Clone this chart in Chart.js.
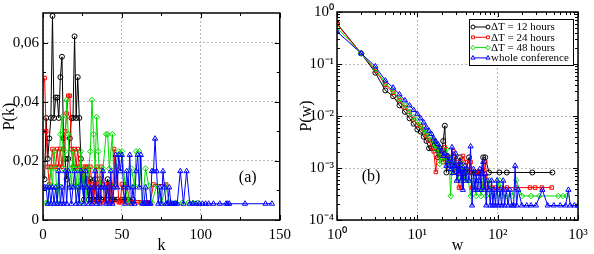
<!DOCTYPE html>
<html>
<head>
<meta charset="utf-8">
<script src="https://cdn.jsdelivr.net/npm/chart.js@4"></script>
<style>
  html, body { margin: 0; padding: 0; background: #fff; }
  #wrap { position: relative; width: 594px; height: 254px; }
  canvas { position: absolute; top: 0; }
  #chartA { left: 0; }
  #chartB { left: 297px; }
</style>
</head>
<body>
<div id="wrap">
  <canvas id="chartA" width="297" height="254"></canvas>
  <canvas id="chartB" width="297" height="254"></canvas>
</div>
<script>
// series labels / colours
const seriesLabels = ['\u0394T = 12 hours', '\u0394T = 24 hours', '\u0394T = 48 hours', 'whole conference'];

// panel (a): degree distribution P(k)
const kBlack = [1,2,3,4,5,6,7,8,9,10,11,12,13,14,15,16,17,18,19,20,21,22,23,24,25,26,27,28,29,30,31,32,33,34,35,36,37,38,40,41,43,44,45,47,50,52,54,57];
const pkBlack = [0.0138,0.0345,0.0207,0.0276,0.0345,0.069,0.0345,0.0414,0.0414,0.0345,
                 0.0483,0.0552,0.0276,0.0207,0.0138,0.0207,0.0276,0.0345,0.0345,0.0621,
                 0.0345,0.0483,0.0345,0.0207,0.0138,0.0069,0.0138,0.0138,0.0069,0.0138,
                 0.0069,0.0069,0.0138,0.0069,0.0069,0.0138,0.0069,0.0069,
                 0.0069,0.0138,0.0069,0.0069,0.0069,0.0069,0.0069,0.0069,0.0069,0.0069];

const kRed = [1,2,3,4,5,6,7,8,9,10,11,12,13,14,15,16,17,18,19,20,21,22,23,24,25,26,27,28,29,30,
              31,32,33,34,35,36,37,38,39,40,41,42,43,44,45,46,47,48,49,50,52,53,55,57,60,62,64,66,68,70,78,80];
const pkRed = [0.048,0.030,0.018,0.012,0.018,0.024,0.018,0.018,0.024,0.018,
               0.024,0.018,0.024,0.030,0.036,0.042,0.042,0.024,0.018,0.024,
               0.018,0.024,0.018,0.012,0.018,0.012,0.018,0.018,0.012,0.018,
               0.012,0.006,0.012,0.018,0.012,0.006,0.018,0.012,0.006,0.012,
               0.012,0.006,0.012,0.006,0.024,0.012,0.018,0.006,0.006,0.012,
               0.006,0.012,0.006,0.006,0.006,0.006,0.006,0.006,0.006,0.012,0.012,0.006];

const kGreen = [2,3,4,5,6,7,8,9,10,11,12,13,14,15,16,17,18,19,20,21,22,23,24,25,26,27,28,29,30,31,32,33,34,35,36,
                38,40,41,42,44,45,46,48,50,52,54,56,58,59,61,63,65,67,69,72,75,78,80,84,88,92,95,98];
const pkGreen = [0.0058,0.0058,0.0116,0.0174,0.0116,0.0232,0.0174,0.0058,0.0116,0.029,
                 0.0348,0.0174,0.0232,0.0406,0.029,0.0174,0.0116,0.0232,0.0174,0.0116,
                 0.0174,0.0058,0.0232,0.0116,0.0174,0.0058,0.0116,0.0174,0.0232,0.0406,
                 0.029,0.0174,0.0348,0.0232,0.0116,
                 0.0174,0.029,0.029,0.0174,0.029,0.0116,0.0174,0.0232,0.0232,0.0116,
                 0.0058,0.0174,0.0116,0.0232,0.0232,0.0058,0.0174,0.0116,0.0058,0.0116,
                 0.0058,0.0116,0.0058,0.0058,0.0058,0.0058,0.0058,0.0058];

const kBlue = [1,2,3,4,5,6,7,8,9,10,11,12,13,14,15,16,17,18,19,20,21,22,23,24,25,26,27,28,29,30,
               31,32,33,34,35,36,37,38,39,40,41,42,43,44,45,46,47,48,49,50,51,52,53,54,55,56,57,58,59,60,
               61,62,63,64,65,66,67,68,69,70,71,72,73,74,75,76,77,78,79,80,81,82,83,84,85,87,89,91,
               93,95,97,99,101,103,105,108,112,116,117,118,128,141,145];
const pkBlue = [0.011,0.011,0.0055,0.011,0.0055,0.011,0.0055,0.011,0.0055,0.0165,
                0.0055,0.011,0.0055,0.0165,0.0055,0.0165,0.011,0.0055,0.011,0.0165,
                0.0055,0.011,0.0055,0.0165,0.011,0.0055,0.0165,0.011,0.0055,0.011,
                0.0055,0.011,0.0165,0.0055,0.011,0.0055,0.011,0.0165,0.011,0.0055,
                0.011,0.0055,0.0165,0.0055,0.011,0.022,0.011,0.022,0.0165,0.022,
                0.011,0.0055,0.0165,0.011,0.022,0.0055,0.011,0.0055,0.0165,0.022,
                0.011,0.022,0.0055,0.0055,0.011,0.0055,0.0055,0.0055,0.0165,0.0165,
                0.0275,0.0165,0.0055,0.011,0.0055,0.0165,0.011,0.0055,0.0055,0.011,
                0.0055,0.0055,0.0055,0.0055,0.0055,0.0165,0.0055,0.0165,
                0.0055,0.0055,0.0055,0.0055,0.0055,0.0055,0.0055,0.0055,0.0055,0.0055,0.0055,0.0055,0.0055,0.0055,0.0055];

const kTicks = [0, 50, 100, 150];
const kTickLabels = ['0', '50', '100', '150'];
const pkTicks = [0, 0.02, 0.04, 0.06];
const pkTickLabels = ['0', '0,02', '0,04', '0,06'];

// panel (b): weight distribution P(w)
const wBlack = [1,2,3,4,5,6,7,8,9,10,11,12,13,14,15,16,17,18,19,20,21,22,23,
                25,27,29,31,34,37,40,44,48,52,57,62,66,70,78,105,130,270,480];
const pwBlack = [0.60,0.16,0.068,0.031,0.024,0.016,0.012,0.009,0.0071,0.0055,
                 0.005,0.004,0.0033,0.0024,0.0024,0.0033,0.0024,0.0016,0.0024,0.0016,
                 0.0033,0.0065,0.00082,
                 0.0016,0.00082,0.0016,0.00082,0.0016,0.00082,0.00082,0.0016,0.00082,0.00082,
                 0.00082,0.00082,0.0016,0.0016,0.00082,0.00082,0.00082,0.00082,0.00082];

const wRed = [1,2,3,4,5,6,7,8,9,10,11,12,13,14,15,16,17,18,19,20,21,22,
              24,26,28,30,32,33,35,37,40,43,46,48,51,56,60,65,70,75,85,95,110,130,170,253,293,355,470];
const pwRed = [0.58,0.16,0.075,0.04,0.028,0.02,0.0145,0.012,0.0085,0.0068,
               0.0063,0.0055,0.0042,0.0034,0.0025,0.0021,0.00084,0.0025,0.0017,0.0021,
               0.0013,0.0025,
               0.0017,0.0013,0.0021,0.00084,0.0013,0.00042,0.00042,0.0017,0.0013,0.00084,
               0.0013,0.00042,0.00042,0.00084,0.00084,0.00042,0.0013,0.00042,0.00042,0.00042,
               0.00042,0.00042,0.00042,0.00042,0.00042,0.00042,0.00042];

const wGreen = [1,2,3,4,5,6,7,8,9,10,11,12,13,14,15,16,17,18,19,20,21,22,23,24,25,
                26,27,28,30,32,34,36,38,40,43,46,50,54,58,62,67,72,78,85,95,
                105,115,130,150,170,200,260,330,570,650,720];
const pwGreen = [0.50,0.16,0.08,0.043,0.03,0.021,0.016,0.012,0.0095,0.008,
                 0.0066,0.0055,0.0047,0.004,0.0035,0.0029,0.0023,0.0026,0.0012,0.002,
                 0.0017,0.0014,0.0023,0.0017,0.0012,
                 0.00029,0.0014,0.00087,0.0012,0.00058,0.00087,0.0012,0.00058,0.00087,0.00058,
                 0.00029,0.00058,0.00029,0.00058,0.00029,0.00058,0.00029,0.00058,0.00029,0.00029,
                 0.00058,0.00029,0.00029,0.00029,0.00058,0.00029,0.00029,0.00029,0.00029,0.00029,0.00029];

const wBlue = [1,2,3,4,5,6,7,8,9,10,11,12,13,14,15,16,17,18,19,20,21,22,23,24,25,26,27,28,29,30,
               31,32,33,34,35,36,37,38,39,40,
               42,44,46,48,50,52,54,56,58,60,62,64,66,68,70,72,75,78,81,84,
               87,90,94,98,102,107,112,117,122,128,135,142,150,158,165,172,180,200,230,260,
               300,360,420,500,600,700,760,800,900,1000];
const pwBlue = [0.42,0.16,0.09,0.048,0.035,0.026,0.02,0.016,0.013,0.011,
                0.009,0.0075,0.006,0.0052,0.0045,0.0037,0.0032,0.0029,0.0025,0.0021,
                0.0017,0.0019,0.0011,0.0017,0.0013,0.00095,0.0025,0.0008,0.0011,0.0019,
                0.00057,0.0011,0.00076,0.0013,0.00057,0.00095,0.00038,0.00076,0.0011,0.00057,
                0.00095,0.00057,0.0026,0.00019,0.00095,0.00038,0.00076,0.00038,0.00057,0.00095,
                0.00038,0.00076,0.0013,0.00038,0.00076,0.00019,0.00057,0.00038,0.00019,0.00057,
                0.00019,0.00038,0.00019,0.00057,0.00019,0.00038,0.00019,0.00057,0.00019,0.00038,
                0.00019,0.00038,0.00019,0.00019,0.0011,0.00019,0.00038,0.00019,0.00019,0.00019,
                0.00019,0.00038,0.00019,0.00019,0.00019,0.00019,0.00038,0.00019,0.00019,0.00019];

const wTicks = [1, 10, 100, 1000];
const wTickLabels = ['10\u2070', '10\u00b9', '10\u00b2', '10\u00b3'];
const pwTicks = [1e-4, 1e-3, 1e-2, 1e-1, 1];
const pwTickLabels = ['10\u207b\u2074', '10\u207b\u00b3', '10\u207b\u00b2', '10\u207b\u00b9', '10\u2070'];

const FONT = '"Liberation Serif", "Times New Roman", serif';
const colors = ['#000000', '#ff0000', '#00dd00', '#0000ff'];
const markers = ['circle', 'rect', 'rectRot', 'triangle'];
const radii = [2.5, 2.5, 2.8, 3];

function makeDatasets(xs, ys) {
    return xs.map((xArr, i) => ({
        label: seriesLabels[i],
        data: xArr.map((x, j) => ({ x: x, y: ys[i][j] })),
        borderColor: colors[i],
        borderWidth: 1,
        pointStyle: markers[i],
        pointRadius: radii[i],
        pointBorderWidth: 1,
        pointBorderColor: colors[i],
        pointBackgroundColor: 'rgba(0,0,0,0)',
        tension: 0,
        order: 3 - i
    }));
}

// frame, inward ticks and panel tag
const framePlugin = {
    id: 'frame',
    afterDatasetsDraw(chart, args, opts) {
        const { ctx, chartArea: a } = chart;
        const xs = chart.scales.x, ys = chart.scales.y;
        ctx.save();
        ctx.strokeStyle = '#000';
        ctx.lineWidth = 1;
        ctx.beginPath();
        const tx = (v, len) => {
            const x = Math.round(xs.getPixelForValue(v)) + 0.5;
            ctx.moveTo(x, a.bottom); ctx.lineTo(x, a.bottom - len);
            ctx.moveTo(x, a.top); ctx.lineTo(x, a.top + len);
        };
        const ty = (v, len) => {
            const y = Math.round(ys.getPixelForValue(v)) + 0.5;
            ctx.moveTo(a.left, y); ctx.lineTo(a.left + len, y);
            ctx.moveTo(a.right, y); ctx.lineTo(a.right - len, y);
        };
        opts.xMajor.forEach(v => tx(v, 5));
        opts.xMinor.forEach(v => tx(v, 3));
        opts.yMajor.forEach(v => ty(v, 5));
        opts.yMinor.forEach(v => ty(v, 3));
        ctx.stroke();
        ctx.lineWidth = 1.5;
        ctx.strokeRect(a.left, a.top, a.right - a.left, a.bottom - a.top);
        ctx.fillStyle = '#000';
        ctx.font = '16px ' + FONT;
        ctx.textAlign = 'center';
        ctx.textBaseline = 'middle';
        ctx.fillText(opts.tag, opts.tagX(a), opts.tagY(a));
        ctx.restore();
    }
};

// boxed legend with line + two markers
const boxLegend = {
    id: 'boxLegend',
    afterDraw(chart, args, opts) {
        if (!opts.show) return;
        const { ctx, chartArea: a } = chart;
        const right = a.right - 5, top = a.top + 7, w = 104, h = 46;
        const left = right - w;
        ctx.save();
        ctx.fillStyle = '#fff';
        ctx.fillRect(left, top, w, h);
        ctx.strokeStyle = '#000';
        ctx.lineWidth = 1;
        ctx.strokeRect(left + 0.5, top + 0.5, w, h);
        ctx.font = '11px ' + FONT;
        ctx.textBaseline = 'middle';
        ctx.textAlign = 'left';
        chart.data.datasets.forEach((ds, i) => {
            const y = top + 8 + i * 10.3;
            const x0 = left + 4, x1 = left + 19;
            ctx.strokeStyle = ds.borderColor;
            ctx.lineWidth = 1;
            ctx.beginPath(); ctx.moveTo(x0, y); ctx.lineTo(x1, y); ctx.stroke();
            const st = { pointStyle: ds.pointStyle, radius: ds.pointRadius * 0.8, borderWidth: 1, rotation: 0 };
            ctx.fillStyle = '#fff';
            Chart.helpers.drawPoint(ctx, st, x0, y);
            Chart.helpers.drawPoint(ctx, st, x1, y);
            ctx.fillStyle = '#000';
            ctx.fillText(ds.label, left + 22, y + 0.5);
        });
        ctx.restore();
    }
};

function axisTitle(text) {
    return { display: true, text: text, color: '#000', font: { family: FONT, size: 16, lineHeight: 1 }, padding: { top: 2, bottom: 0 } };
}
const tickFont = { family: FONT, size: 15 };
const gridOpts = { color: '#b8b8b8', lineWidth: 1, drawTicks: false };
const borderOpts = { display: false, dash: [2, 2] };

// panel (a)
new Chart(document.getElementById('chartA'), {
    type: 'line',
    data: { datasets: makeDatasets([kBlack, kRed, kGreen, kBlue], [pkBlack, pkRed, pkGreen, pkBlue]) },
    plugins: [framePlugin],
    options: {
        responsive: false,
        animation: false,
        layout: { padding: { top: 7, right: 14, left: 0, bottom: 0 } },
        plugins: {
            legend: { display: false },
            tooltip: { enabled: false },
            frame: {
                xMajor: kTicks, xMinor: [25, 75, 125],
                yMajor: pkTicks, yMinor: [0.01, 0.03, 0.05],
                tag: '(a)', tagX: a => a.right - 32, tagY: a => a.bottom - 42
            }
        },
        scales: {
            x: {
                type: 'linear', min: 0, max: 150,
                afterBuildTicks: s => { s.ticks = kTicks.map(v => ({ value: v })); },
                afterFit: s => { s.height = 34; },
                ticks: { callback: (v, i) => kTickLabels[i], color: '#000', font: tickFont, padding: 6, maxRotation: 0 },
                grid: gridOpts, border: borderOpts,
                title: Object.assign(axisTitle('k'), { padding: 0 })
            },
            y: {
                type: 'linear', min: 0, max: 0.07,
                afterBuildTicks: s => { s.ticks = pkTicks.map(v => ({ value: v })); },
                afterFit: s => { s.width = 43; },
                ticks: { callback: (v, i) => pkTickLabels[i], color: '#000', font: tickFont, padding: 4 },
                grid: gridOpts, border: borderOpts,
                title: axisTitle('P(k)')
            }
        }
    }
});

// panel (b)
const logMinor = [];
[1, 10, 100].forEach(d => { for (let m = 2; m <= 9; m++) logMinor.push(d * m); });
const logMinorY = [];
[1e-4, 1e-3, 1e-2, 1e-1].forEach(d => { for (let m = 2; m <= 9; m++) logMinorY.push(d * m); });

new Chart(document.getElementById('chartB'), {
    type: 'line',
    data: { datasets: makeDatasets([wBlack, wRed, wGreen, wBlue], [pwBlack, pwRed, pwGreen, pwBlue]) },
    plugins: [framePlugin, boxLegend],
    options: {
        responsive: false,
        animation: false,
        layout: { padding: { top: 8, right: 16, left: 0, bottom: 0 } },
        plugins: {
            legend: { display: false },
            tooltip: { enabled: false },
            boxLegend: { show: true },
            frame: {
                xMajor: wTicks, xMinor: logMinor,
                yMajor: pwTicks, yMinor: logMinorY,
                tag: '(b)', tagX: a => a.left + 34, tagY: a => a.bottom - 43
            }
        },
        scales: {
            x: {
                type: 'logarithmic', min: 1, max: 1000,
                afterBuildTicks: s => { s.ticks = wTicks.map(v => ({ value: v })); },
                afterFit: s => { s.height = 34; },
                ticks: { callback: (v, i) => wTickLabels[i], color: '#000', font: tickFont, padding: 6, maxRotation: 0 },
                grid: gridOpts, border: borderOpts,
                title: Object.assign(axisTitle('w'), { padding: 0 })
            },
            y: {
                type: 'logarithmic', min: 1e-4, max: 1,
                afterBuildTicks: s => { s.ticks = pwTicks.map(v => ({ value: v })); },
                afterFit: s => { s.width = 40; },
                ticks: { callback: (v, i) => pwTickLabels[i], color: '#000', font: tickFont, padding: 3 },
                grid: gridOpts, border: borderOpts,
                title: axisTitle('P(w)')
            }
        }
    }
});
</script>
</body>
</html>
